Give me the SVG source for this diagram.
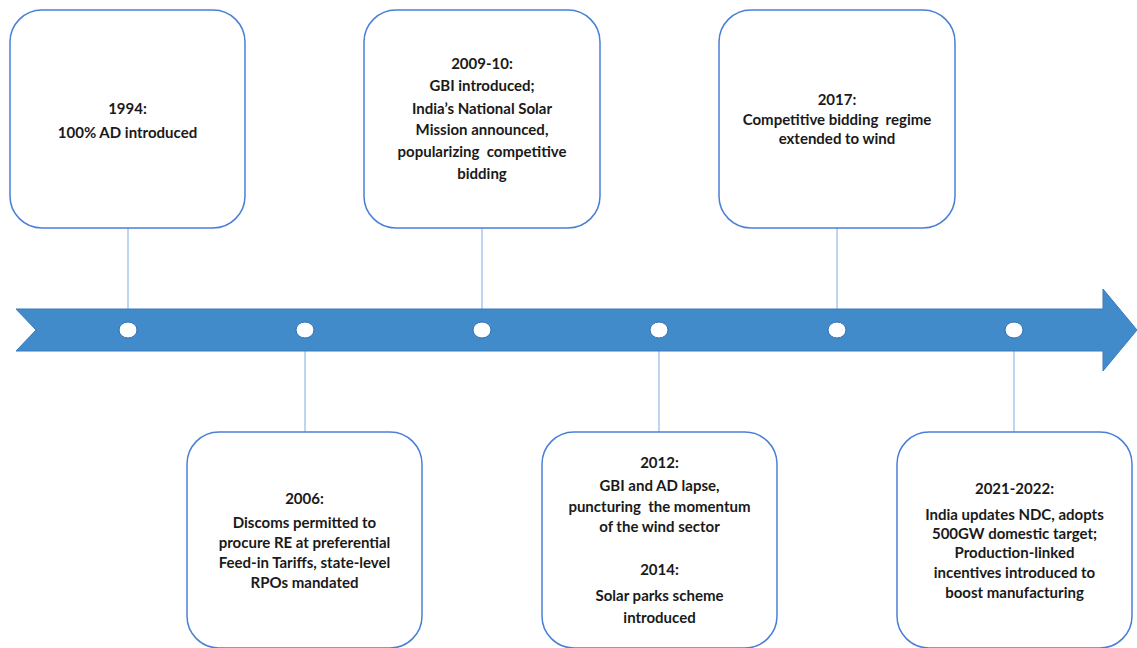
<svg xmlns="http://www.w3.org/2000/svg" width="1137" height="648" viewBox="0 0 1137 648">
<style>
.box{fill:#ffffff;stroke:#4a7fd6;stroke-width:1.5}
.conn{stroke:#9cc0e8;stroke-width:1.3;fill:none}
.dot{fill:#ffffff;stroke:#2f6fb3;stroke-width:1}
text{font-family:Lato,"Open Sans","Liberation Sans",sans-serif;font-weight:700;font-size:15px;fill:#1a1a1a;text-anchor:middle}
</style>
<rect width="1137" height="648" fill="#ffffff"/>
<g id="connectors">
<line class="conn" x1="128" y1="228" x2="128" y2="309"/>
<line class="conn" x1="305" y1="351" x2="305" y2="432"/>
<line class="conn" x1="482" y1="228" x2="482" y2="309"/>
<line class="conn" x1="659" y1="351" x2="659" y2="432"/>
<line class="conn" x1="837" y1="228" x2="837" y2="309"/>
<line class="conn" x1="1014" y1="351" x2="1014" y2="432"/>
</g>
<g id="timeline">
<polygon points="16,309 1103,309 1103,289 1137,330 1103,371 1103,351 16,351 36,330" fill="#418bcb" stroke="#3a7bbf" stroke-width="1"/>
<ellipse class="dot" cx="128" cy="330" rx="9" ry="8"/>
<ellipse class="dot" cx="305" cy="330" rx="9" ry="8"/>
<ellipse class="dot" cx="482" cy="330" rx="9" ry="8"/>
<ellipse class="dot" cx="659" cy="330" rx="9" ry="8"/>
<ellipse class="dot" cx="837" cy="330" rx="9" ry="8"/>
<ellipse class="dot" cx="1014" cy="330" rx="9" ry="8"/>
</g>
<g id="n1994">
<rect class="box" x="10" y="10" width="235" height="218" rx="32"/>
<text x="127.5" y="114">1994:</text>
<text x="127.5" y="138">100% AD introduced</text>
</g>
<g id="n2009">
<rect class="box" x="364" y="10" width="236" height="218" rx="32"/>
<text x="482" y="69">2009-10:</text>
<text x="482" y="91">GBI introduced;</text>
<text x="482" y="114">India’s National Solar</text>
<text x="482" y="135">Mission announced,</text>
<text x="482" y="157" xml:space="preserve">popularizing  competitive</text>
<text x="482" y="179">bidding</text>
</g>
<g id="n2017">
<rect class="box" x="719" y="10" width="236" height="218" rx="32"/>
<text x="837" y="105">2017:</text>
<text x="837" y="125" xml:space="preserve">Competitive bidding  regime</text>
<text x="837" y="144">extended to wind</text>
</g>
<g id="n2006">
<rect class="box" x="187" y="432" width="235" height="216" rx="32"/>
<text x="304.5" y="504">2006:</text>
<text x="304.5" y="528">Discoms permitted to</text>
<text x="304.5" y="548">procure RE at preferential</text>
<text x="304.5" y="568">Feed-in Tariffs, state-level</text>
<text x="304.5" y="588">RPOs mandated</text>
</g>
<g id="n2012">
<rect class="box" x="542" y="432" width="235" height="216" rx="32"/>
<text x="659.5" y="468">2012:</text>
<text x="659.5" y="491">GBI and AD lapse,</text>
<text x="659.5" y="512" xml:space="preserve">puncturing  the momentum</text>
<text x="659.5" y="532">of the wind sector</text>
<text x="659.5" y="575">2014:</text>
<text x="659.5" y="601">Solar parks scheme</text>
<text x="659.5" y="623">introduced</text>
</g>
<g id="n2021">
<rect class="box" x="897" y="432" width="235" height="216" rx="32"/>
<text x="1014.5" y="494">2021-2022:</text>
<text x="1014.5" y="520">India updates NDC, adopts</text>
<text x="1014.5" y="539">500GW domestic target;</text>
<text x="1014.5" y="558">Production-linked</text>
<text x="1014.5" y="578">incentives introduced to</text>
<text x="1014.5" y="598">boost manufacturing</text>
</g>
</svg>
